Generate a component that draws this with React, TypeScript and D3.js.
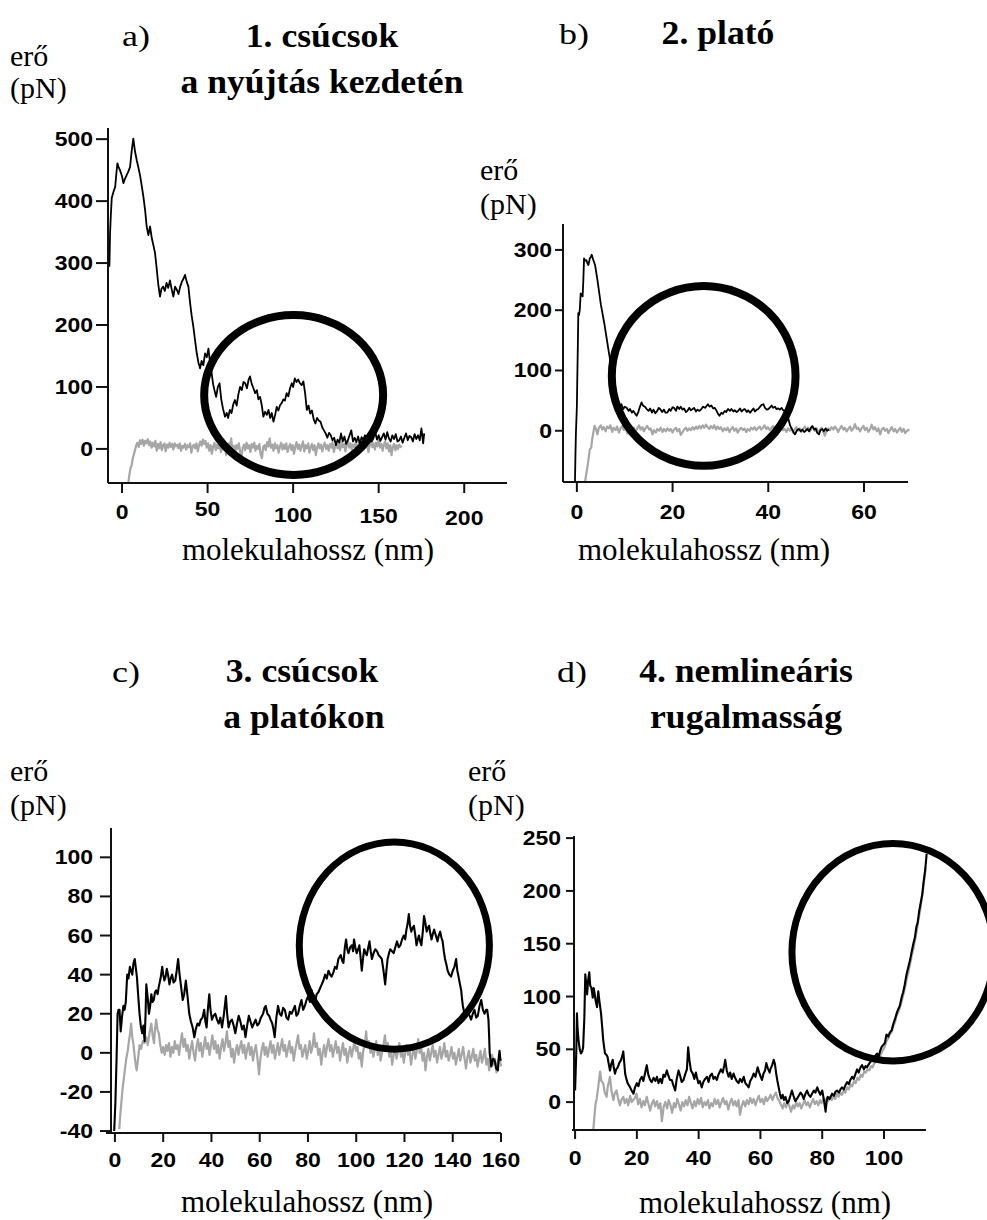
import React from 'react';
import * as d3 from 'd3';

// ---- tick values ----
const aXTicks = [0, 50, 100, 150, 200];
const aYTicks = [0, 100, 200, 300, 400, 500];
const bXTicks = [0, 20, 40, 60];
const bYTicks = [0, 100, 200, 300];
const cXTicks = [0, 20, 40, 60, 80, 100, 120, 140, 160];
const cYTicks = [-40, -20, 0, 20, 40, 60, 80, 100];
const dXTicks = [0, 20, 40, 60, 80, 100];
const dYTicks = [0, 50, 100, 150, 200, 250];

// ---- marked regions: [cx nm, cy pN, rx nm, ry pN] ----
const aRing = [100.3, 87, 52.3, 129];
const bRing = [26.5, 91, 19.2, 149];
const cRing = [115.8, 54.9, 39.4, 53];
const dRing = [102.9, 142, 32.7, 103];

// ---- traces, [molekulahossz nm, erő pN] ----
const aBlack = [
  [-7.4,294],[-7.2,320],[-7,348],[-6.5,380],[-6,405],[-5,415],[-4,423],[-3.3,445],[-2.7,461],[-2,455],[-1.2,450],[0,440],[0.8,429],[1.7,436],[2.7,442],[3.7,448],[4.7,455],[5.6,480],[6.6,501],[7.6,480],[8.6,466],[9.5,455],[10.5,442],[11.5,425],[12.5,407],[13.5,385],[14.4,359],[15.4,345],[16.4,359],[17.4,340],[18.4,328],[19.3,316],[20.3,290],[21.2,265],[22.2,246],[23,258],[24,262],[25,255],[26,268],[27,260],[28,272],[29,258],[30,246],[31,262],[32,257],[33,250],[34,262],[35,270],[36,275],[36.8,281],[37.8,270],[38.8,262],[39.8,235],[40.7,215],[41.7,197],[42.7,175],[43.7,154],[44.6,140],[45.6,130],[46.5,142],[47.5,135],[48.5,154],[49.5,148],[50.5,162],[51.4,140],[52.4,122],[53.2,105],[54,95],[55,84],[56,100],[57,106],[58,80],[59,65],[60.2,52],[61.2,58],[62,50],[63,63],[64,58],[65,72],[66,79],[67,70],[68,88],[69,100],[70,95],[71,108],[72,106],[73,98],[74,112],[74.8,117],[75.8,105],[76.8,98],[77.8,90],[78.8,95],[79.7,80],[80.7,84],[81.7,70],[82.6,52],[83.6,60],[84.6,55],[85.6,63],[86.6,50],[87.5,58],[88.5,44],[89.5,55],[90.4,68],[91.4,62],[92.3,70],[93.3,74],[94.3,80],[95.2,78],[96.2,90],[97.2,85],[98.2,98],[99.2,106],[100,100],[101,114],[102,108],[103,112],[104,106],[105,103],[106,109],[107,90],[108,63],[109,70],[110,57],[111,62],[112,48],[113,41],[114,50],[115,46],[116,44],[117,35],[118,30],[119,25],[120,18],[121,26],[122,22],[123,14],[124,18],[125,6],[126,15],[127,10],[128,25],[129,12],[130,20],[131,8],[132,14],[133,22],[134,30],[135,12],[136,18],[137,11],[138,20],[139,8],[140,19],[141,15],[142,22],[143,10],[144,14],[145,20],[146,12],[147,18],[148,27],[149,15],[150,22],[151,13],[152,19],[153,25],[154,15],[155,27],[156,17],[157,12],[158,22],[159,16],[160,24],[161,12],[162,14],[163,20],[164,10],[165,18],[166,25],[167,14],[168,21],[169,19],[170,12],[171,24],[172,16],[173,22],[174,14],[175,33],[176,9],[176.6,25]
];
const aGray = [
  [3.7,-55],[4.3,-42],[5,-30],[5.6,-27],[6.3,-15],[7,-8],[7.6,-2],[8.3,6],[9,10],[9.8,3],[10.5,14],[11.3,8],[12,15],[12.8,5],[13.5,13],[14.3,9],[15,16],[15.8,6],[16.5,12],[17.3,2],[18,10],[18.8,4],[19.5,13],[20.3,-3],[21,8],[21.8,1],[22.5,11],[23.3,-2],[24,6],[24.8,9],[25.5,-4],[26.3,7],[27,2],[27.8,10],[28.5,3],[29.3,8],[30,-1],[30.8,9],[31.5,4],[32.3,7],[33,1],[33.8,9],[34.5,-3],[35.3,5],[36,2],[36.8,8],[37.5,-1],[38.3,6],[39,3],[39.8,9],[40.5,-6],[41.3,4],[42,7],[42.8,1],[43.5,9],[44.3,-4],[45,6],[45.8,12],[46.5,5],[47.3,15],[48,8],[48.8,13],[49.5,2],[50.3,9],[51,-3],[51.8,6],[52.5,-8],[53.3,4],[54,10],[54.8,-2],[55.5,7],[56.3,1],[57,11],[57.8,-5],[58.5,4],[59.3,-1],[60,8],[60.8,-10],[61.5,3],[62.3,9],[63,2],[63.8,17],[64.5,-3],[65.3,5],[66,-7],[66.8,6],[67.5,0],[68.3,9],[69,-4],[69.8,-14],[70.5,2],[71.3,7],[72,-2],[72.8,10],[73.5,1],[74.3,6],[75,-5],[75.8,8],[76.5,2],[77.3,10],[78,-3],[78.8,5],[79.5,0],[80.3,8],[81,-9],[81.8,-15],[82.5,3],[83.3,6],[84,-2],[84.8,11],[85.5,4],[86.3,17],[87,2],[87.8,7],[88.5,-3],[89.3,9],[90,1],[90.8,6],[91.5,-6],[92.3,4],[93,10],[93.8,-1],[94.5,7],[95.3,0],[96,9],[96.8,-5],[97.5,3],[98.3,8],[99,-2],[99.8,6],[100.5,-8],[101.3,4],[102,11],[102.8,0],[103.5,7],[104.3,-3],[105,5],[105.8,12],[106.5,-4],[107.3,6],[108,1],[108.8,9],[109.5,-6],[110.3,3],[111,8],[111.8,-2],[112.5,6],[113.3,-10],[114,2],[114.8,9],[115.5,1],[116.3,7],[117,-4],[117.8,5],[118.5,10],[119.3,0],[120,6],[120.8,-3],[121.5,8],[122.3,2],[123,11],[123.8,-5],[124.5,4],[125.3,9],[126,1],[126.8,7],[127.5,-2],[128.3,10],[129,3],[129.8,8],[130.5,-4],[131.3,6],[132,12],[132.8,2],[133.5,9],[134.3,-1],[135,7],[135.8,3],[136.5,10],[137.3,-3],[138,5],[138.8,13],[139.5,4],[140.3,9],[141,-2],[141.8,8],[142.5,2],[143.3,11],[144,-5],[144.8,6],[145.5,14],[146.3,3],[147,9],[147.8,-1],[148.5,10],[149.3,4],[150,17],[150.8,2],[151.5,8],[152.3,-3],[153,7],[153.8,12],[154.5,1],[155.3,9],[156,-4],[156.8,6],[157.5,-10],[158.3,4],[159,8],[159.8,-2],[160.5,6],[161.3,0],[162,7],[162.8,3],[163.5,5]
];

const bBlack = [
  [-0.4,-85],[-0.3,-40],[-0.2,-4],[0,40],[0.07,79],[0.2,140],[0.3,195],[0.45,192],[0.6,200],[0.8,228],[1,226],[1.2,223],[1.35,250],[1.5,286],[1.7,282],[2,283],[2.2,278],[2.4,275],[2.6,282],[2.7,286],[2.9,288],[3.1,292],[3.4,284],[3.8,275],[4.3,250],[5,210],[5.8,175],[6.6,134],[7.2,105],[7.8,78],[8.3,55],[8.7,46],[9,40],[9.3,44],[9.7,36],[10,40],[10.4,38],[10.8,33],[11.1,36],[11.5,30],[11.8,33],[12.2,28],[12.5,25],[12.8,30],[13.1,38],[13.5,47],[13.8,42],[14.2,40],[14.6,36],[15,33],[15.3,37],[15.7,30],[16,35],[16.4,29],[16.8,33],[17.1,38],[17.4,36],[17.8,31],[18.2,35],[18.5,30],[18.9,30],[19.3,36],[19.6,33],[20,39],[20.3,38],[20.7,33],[21,40],[21.4,36],[21.7,40],[22.1,35],[22.4,37],[22.8,31],[23.1,33],[23.5,38],[23.8,34],[24.2,36],[24.5,38],[24.9,32],[25.2,35],[25.6,33],[26,36],[26.4,40],[26.8,38],[27.1,41],[27.4,44],[27.7,40],[28.1,42],[28.5,37],[28.8,38],[29.2,33],[29.5,28],[29.8,25],[30.2,30],[30.5,28],[30.9,33],[31.2,31],[31.6,36],[32,33],[32.3,36],[32.7,32],[33,34],[33.4,31],[33.7,33],[34.1,37],[34.4,32],[34.8,35],[35.1,36],[35.5,31],[35.8,34],[36.2,30],[36.5,33],[36.9,37],[37.2,32],[37.6,35],[37.9,36],[38.3,40],[38.6,43],[39,44],[39.3,38],[39.7,35],[40,36],[40.4,39],[40.7,42],[41,38],[41.4,40],[41.7,36],[42.1,37],[42.4,35],[42.8,38],[43.1,34],[43.5,33],[43.9,30],[44.2,20],[44.6,8],[45,2],[45.3,-3],[45.6,-6],[46,1],[46.4,3],[46.8,-1],[47.1,2],[47.5,-2],[47.8,0],[48.2,3],[48.5,-1],[48.9,5],[49.2,8],[49.6,2],[49.9,4],[50.2,-3],[50.6,-6],[50.9,1],[51.3,3],[51.6,-1],[52,4],[52.3,0],[52.7,2]
];
const bGray = [
  [1.7,-85],[2,-70],[2.3,-55],[2.7,-31],[3,-28],[3.2,-14],[3.5,0],[3.7,8],[4,3],[4.3,-6],[4.6,5],[5,9],[5.3,2],[5.6,6],[6,-1],[6.3,7],[6.7,4],[7,9],[7.4,-2],[7.7,5],[8.1,1],[8.4,7],[8.8,-3],[9.1,4],[9.5,8],[9.8,1],[10.2,6],[10.5,-4],[10.9,3],[11.2,7],[11.6,0],[11.9,5],[12.3,-2],[12.6,4],[13,9],[13.3,2],[13.7,6],[14,-1],[14.4,5],[14.7,8],[15.1,2],[15.4,4],[15.8,-6],[16.1,1],[16.5,-3],[16.8,3],[17.2,0],[17.5,5],[17.9,-2],[18.2,3],[18.6,-1],[18.9,4],[19.3,0],[19.6,3],[20,-3],[20.3,2],[20.7,5],[21,-1],[21.4,3],[21.7,-7],[22.1,-2],[22.4,2],[22.8,5],[23.1,0],[23.5,4],[23.8,1],[24.2,6],[24.5,2],[24.9,7],[25.2,3],[25.6,8],[25.9,4],[26.3,9],[26.6,5],[27,10],[27.3,6],[27.7,3],[28,8],[28.4,4],[28.7,9],[29.1,2],[29.4,7],[29.8,3],[30.1,6],[30.5,-1],[30.8,4],[31.2,1],[31.5,5],[31.9,-2],[32.2,3],[32.6,6],[32.9,0],[33.3,4],[33.6,-3],[34,2],[34.3,5],[34.7,1],[35,4],[35.4,-2],[35.7,3],[36.1,0],[36.4,5],[36.8,2],[37.1,6],[37.5,1],[37.8,4],[38.2,7],[38.5,2],[38.9,5],[39.2,9],[39.6,3],[39.9,6],[40.3,1],[40.6,4],[41,8],[41.3,2],[41.7,5],[42,-1],[42.4,4],[42.7,7],[43.1,1],[43.4,3],[43.8,-2],[44.1,4],[44.5,0],[44.8,5],[45.2,-3],[45.5,2],[45.9,6],[46.2,0],[46.6,4],[46.9,-2],[47.3,3],[47.6,7],[48,1],[48.3,5],[48.7,-1],[49,3],[49.4,6],[49.7,0],[50.1,4],[50.4,-4],[50.8,2],[51.1,5],[51.5,-1],[51.8,-8],[52.2,0],[52.5,4],[52.9,1],[53.2,6],[53.6,2],[53.9,7],[54.3,3],[54.6,-2],[55,4],[55.3,8],[55.7,2],[56,5],[56.4,-1],[56.7,3],[57.1,7],[57.4,0],[57.8,4],[58.1,11],[58.5,3],[58.8,5],[59.2,-1],[59.5,4],[59.9,8],[60.2,1],[60.6,5],[60.9,-2],[61.3,3],[61.6,10],[62,2],[62.3,6],[62.7,-1],[63,4],[63.4,-6],[63.7,2],[64.1,5],[64.4,0],[64.8,3],[65.1,-4],[65.5,2],[65.8,6],[66.2,-1],[66.5,3],[66.9,-3],[67.2,1],[67.6,5],[67.9,-2],[68.3,3],[68.6,-4],[69,0],[69.5,2]
];

const cBlack = [
  [-0.3,-40],[0.2,-25],[0.7,-2],[1.1,20],[1.5,22],[1.9,22],[2.4,11],[2.9,18],[3.5,24],[4,22],[4.5,26],[5.1,40],[5.6,38],[6.2,44],[6.7,42],[7.2,40],[7.7,46],[8.2,48],[8.7,43],[9.1,39],[9.6,30],[10.2,20],[10.7,14],[11.3,10],[11.8,14],[12.3,6],[12.7,20],[13,35],[13.6,28],[14.1,20],[14.6,24],[15.1,30],[15.6,26],[16.1,27],[16.6,31],[17.1,32],[17.7,30],[18.2,34],[18.9,38],[19.6,44],[20,40],[20.5,37],[21,39],[21.5,43],[22,40],[22.6,35],[23.1,38],[23.7,40],[24.3,36],[25,37],[25.6,42],[26.2,48],[26.8,40],[27.4,34],[28.1,27],[28.7,30],[29.4,37],[30,30],[30.8,20],[31.5,16],[32.2,13],[32.9,8],[33.5,12],[34.2,15],[34.9,14],[35.6,17],[36.3,18],[37,22],[37.5,16],[38,13],[38.5,22],[39.1,30],[39.6,22],[40.2,17],[40.9,19],[41.6,20],[42.3,17],[43,15],[43.7,18],[44.4,13],[45.2,20],[46,29],[46.5,20],[47.1,13],[47.8,16],[48.5,17],[49.2,14],[49.9,10],[50.6,15],[51.3,19],[52,16],[52.7,12],[53.4,14],[54.1,8],[54.8,14],[55.5,19],[56.2,16],[56.9,13],[57.6,15],[58.3,17],[59,14],[59.7,15],[60.5,18],[61.4,20],[62,23],[62.5,24],[63.2,20],[63.9,19],[64.5,17],[65.2,15],[65.7,12],[66.2,8],[66.9,18],[67.6,24],[68.3,20],[69,19],[69.7,23],[70.4,22],[71.1,18],[71.8,17],[72.5,21],[73.2,20],[73.9,22],[74.6,24],[75.2,19],[75.9,20],[76.6,24],[77.3,27],[78,22],[78.7,24],[79.4,27],[80.1,29],[80.8,26],[81.5,32],[82.2,28],[82.9,26],[83.6,30],[84.3,31],[85,33],[85.7,35],[86.4,37],[87.1,40],[87.8,38],[88.5,42],[89.2,40],[89.8,39],[90.5,41],[91.2,44],[91.9,43],[92.6,48],[93.6,50],[94.2,47],[94.7,46],[95.3,54],[95.8,58],[96.3,53],[96.8,51],[97.5,54],[98.2,55],[98.7,52],[99.1,58],[99.6,54],[100.2,51],[100.8,53],[101.3,55],[101.8,49],[102.3,42],[102.8,48],[103.3,53],[103.9,51],[104.4,50],[105,54],[105.5,57],[106,52],[106.5,48],[107.2,51],[107.9,53],[108.6,52],[109.3,50],[110,49],[110.6,48],[111.3,42],[112,35],[112.5,42],[113,48],[113.6,51],[114.1,53],[114.8,52],[115.5,51],[116.2,54],[116.9,57],[117.6,54],[118.3,55],[119,58],[119.7,60],[120.3,58],[120.8,63],[121.3,66],[121.8,71],[122.3,65],[122.8,62],[123.4,64],[123.9,65],[124.5,60],[125,55],[125.5,58],[126,60],[126.5,57],[127,55],[127.6,62],[128.1,70],[128.7,66],[129.2,62],[129.7,64],[130.2,65],[130.7,61],[131.2,58],[131.8,61],[132.3,63],[133,60],[133.7,57],[134.2,60],[134.8,62],[135.3,59],[135.8,57],[136.3,52],[136.8,48],[137.4,45],[137.9,42],[138.6,40],[139.3,39],[140,42],[140.7,44],[141.4,48],[141.9,42],[142.4,39],[143,35],[143.5,32],[143.9,27],[144.2,24],[144.7,21],[145.2,19],[145.8,22],[146.3,20],[147,19],[147.6,17],[148.3,20],[149,22],[149.7,18],[150.4,19],[151.1,24],[151.8,27],[152.5,22],[153.2,20],[153.8,22],[154.3,22],[154.8,17],[155.1,8],[155.3,0],[155.7,-4],[156,-7],[156.7,-3],[157.4,-4],[158,-8],[158.7,-9],[159.1,-2],[159.4,1],[159.7,-3],[160,-4]
];
const cGray = [
  [1.8,-39],[2.2,-32],[2.7,-25],[3.2,-18],[3.6,-14],[4.2,-8],[4.7,-3],[5.3,1],[5.8,6],[6.3,10],[6.7,15],[7.2,8],[7.7,4],[8.2,-2],[8.6,-6],[9,-9],[9.5,-4],[10.2,4],[10.8,2],[11.6,6],[12.3,5],[13,8],[13.6,4],[14.3,10],[15.1,15],[15.6,9],[16.2,5],[16.6,12],[17.1,17],[17.6,12],[18.2,10],[18.8,4],[19.4,0],[20,3],[20.6,-1],[21.2,4],[21.8,1],[22.4,5],[23,-2],[23.6,3],[24.2,0],[24.8,6],[25.4,2],[26,4],[26.6,-1],[27.2,5],[27.8,10],[28.4,3],[29,7],[29.6,1],[30.2,4],[30.8,-3],[31.4,2],[32,6],[32.6,0],[33.2,-4],[33.8,3],[34.4,7],[35,1],[35.6,5],[36.2,-2],[36.8,3],[37.4,8],[38,2],[38.6,5],[39.2,-1],[39.8,4],[40.4,9],[41,2],[41.6,6],[42.2,0],[42.8,4],[43.4,-3],[44,3],[44.6,7],[45.2,1],[45.8,5],[46.4,11],[47,3],[47.6,6],[48.2,-2],[48.8,2],[49.4,-5],[50,1],[50.6,4],[51.2,-1],[51.8,3],[52.4,6],[53,0],[53.6,4],[54.2,-3],[54.8,2],[55.4,5],[56,-1],[56.6,3],[57.2,-4],[57.8,1],[58.4,4],[59,-2],[59.7,-11],[60.3,-3],[60.9,2],[61.5,5],[62.1,-1],[62.7,3],[63.3,-2],[63.9,2],[64.5,6],[65.1,0],[65.7,4],[66.3,-3],[66.9,1],[67.5,5],[68.1,-1],[68.7,3],[69.3,7],[69.9,1],[70.5,4],[71.1,-2],[71.7,2],[72.3,6],[72.9,0],[73.5,3],[74.1,-4],[74.7,1],[75.3,5],[75.9,9],[76.5,2],[77.1,4],[77.7,-2],[78.3,1],[78.9,4],[79.5,-3],[80.1,1],[80.7,6],[81.3,0],[81.9,3],[82.5,10],[83.1,3],[83.7,5],[84.3,-1],[84.9,2],[85.5,-6],[86.1,0],[86.7,4],[87.3,-2],[87.9,3],[88.5,7],[89.1,1],[89.7,4],[90.3,-2],[90.9,2],[91.5,6],[92.1,0],[92.7,3],[93.3,-4],[93.9,1],[94.5,5],[95.1,-1],[95.7,2],[96.3,-5],[96.9,0],[97.5,3],[98.1,-2],[98.7,2],[99.3,6],[99.9,1],[100.5,3],[101.1,-3],[101.7,0],[102.3,-7],[102.9,1],[103.5,4],[104.1,11],[104.7,3],[105.3,6],[105.9,0],[106.5,3],[107.1,-2],[107.7,2],[108.3,6],[108.9,-1],[109.5,3],[110.1,-4],[110.7,0],[111.3,4],[111.9,9],[112.5,2],[113.1,5],[113.7,-2],[114.3,2],[114.9,-6],[115.5,-1],[116.1,3],[116.7,-3],[117.3,1],[117.9,5],[118.5,-2],[119.1,2],[119.7,-5],[120.3,0],[120.9,4],[121.5,-1],[122.1,2],[122.7,-6],[123.3,-1],[123.9,3],[124.5,-3],[125.1,1],[125.7,7],[126.3,0],[126.9,3],[127.5,-4],[128.1,0],[128.7,-9],[129.3,-2],[129.9,2],[130.5,-4],[131.1,0],[131.7,4],[132.3,-2],[132.9,1],[133.5,-5],[134.1,-1],[134.7,3],[135.3,-3],[135.9,0],[136.5,5],[137.1,-2],[137.7,1],[138.3,-4],[138.9,-1],[139.5,3],[140.1,-3],[140.7,0],[141.3,-6],[141.9,-2],[142.5,2],[143.1,-4],[143.7,-1],[144.3,3],[144.9,-3],[145.5,-8],[146.1,-2],[146.7,1],[147.3,-5],[147.9,-2],[148.5,2],[149.1,-4],[149.7,-1],[150.3,-7],[150.9,-3],[151.5,1],[152.1,-5],[152.7,-2],[153.3,2],[153.9,-6],[154.5,-3],[155.1,-9],[155.7,-4],[156.3,-1],[156.9,-6],[157.5,-3],[158.1,-10],[158.7,-5],[159.3,-2],[160,-7]
];

const dBlack = [
  [0,11],[0.2,30],[0.4,49],[0.6,84],[0.8,70],[1.1,59],[1.5,50],[1.9,46],[2.3,48],[2.6,52],[3,80],[3.3,121],[3.6,112],[3.9,102],[4.2,115],[4.6,123],[4.9,110],[5.2,109],[5.5,104],[5.7,99],[6,108],[6.2,105],[6.6,97],[7.1,90],[7.3,98],[7.5,105],[7.9,95],[8.4,84],[8.8,70],[9.1,59],[9.4,52],[9.7,46],[10.1,45],[10.5,43],[10.9,36],[11.3,30],[11.7,36],[12.2,40],[12.5,33],[12.9,27],[13.3,31],[13.8,33],[14.3,37],[14.9,40],[15.3,44],[15.6,48],[15.9,38],[16.2,27],[16.6,22],[17,18],[17.4,16],[17.8,14],[18.3,11],[18.9,8],[19.4,14],[20,18],[20.5,15],[21,21],[21.6,24],[22.1,20],[22.7,28],[23.2,35],[23.7,26],[24.3,21],[24.8,19],[25.4,23],[26,20],[26.5,24],[27,18],[27.6,22],[28.1,18],[28.6,26],[29.1,24],[29.7,30],[30.2,25],[30.7,21],[31.3,21],[31.8,16],[32.4,11],[32.9,22],[33.5,30],[34,25],[34.5,19],[35.1,21],[35.6,26],[36.2,31],[36.6,52],[37,40],[37.5,30],[38.1,27],[38.6,22],[39.1,28],[39.4,24],[39.9,18],[40.4,20],[41,14],[41.5,19],[42.1,22],[42.7,24],[43.2,19],[43.7,25],[44.3,27],[44.8,22],[45.3,24],[45.9,21],[46.4,26],[46.9,29],[47.2,31],[47.8,28],[48.3,35],[48.6,40],[49.1,30],[49.7,24],[50.2,28],[50.7,22],[51.3,27],[51.8,23],[52.3,20],[52.9,18],[53.4,22],[54,19],[54.6,24],[55.1,18],[55.7,16],[56.2,14],[56.7,20],[57.3,23],[57.8,27],[58.4,24],[59.1,33],[59.6,28],[60.1,24],[60.5,21],[61,27],[61.5,30],[61.9,37],[62.4,32],[63,28],[63.2,31],[63.8,35],[64.3,40],[64.7,36],[65.1,27],[65.5,20],[65.9,14],[66.3,8],[66.7,3.5],[67.2,7],[67.6,2],[68.1,5],[68.7,-1],[69.2,1],[69.7,6],[70.2,11],[70.7,6],[71.3,1],[71.9,3.5],[72.4,6],[73,9],[73.5,7],[74,3],[74.6,8],[75.1,11],[75.6,7],[76.2,5],[76.7,8],[77.3,11],[77.8,9],[78.4,14],[78.9,10],[79.4,7],[80,11],[80.5,3],[81.1,-9],[81.5,2],[81.8,5],[82.4,3],[83.2,8],[83.8,6],[84.3,10],[84.8,11],[85.4,9],[85.9,12],[86.4,14],[87,12],[87.5,16],[88.1,19],[88.6,17],[89.1,21],[89.7,24],[90.2,22],[90.8,27],[91.3,31],[91.8,28],[92.4,33],[92.9,35],[93.5,31],[94,34],[94.5,33],[95.1,36],[95.6,38],[96.2,40],[96.7,42],[97.2,44],[97.8,46],[98.2,42],[98.7,48],[99.2,52],[99.7,54],[100.3,56],[100.8,64],[101.4,62],[101.9,66],[102.5,68],[103,74],[103.6,79],[104.1,84],[104.6,88],[105.1,91],[105.7,99],[106.2,104],[106.7,111],[107.3,121],[107.8,127],[108.4,134],[109,143],[109.5,150],[110,156],[110.5,166],[110.9,170],[111.4,181],[111.9,189],[112.4,197],[112.8,208],[113.3,219],[113.6,228],[113.8,235]
];
const dGray = [
  [5.9,-26],[6.3,-12],[6.6,-2],[7,3.5],[7.4,12],[7.8,22],[8.1,29],[8.5,20],[9.1,18],[9.6,9],[10.2,5],[10.6,15],[11,20],[11.3,24],[11.8,10],[12.4,2],[12.8,8],[13.4,11],[13.9,4],[14.5,-3],[15,2],[15.6,5],[16.1,-1],[16.7,3],[17.2,-3],[17.8,6],[18.3,0],[18.8,2],[19.4,4],[19.9,8],[20.4,-2],[21,3],[21.5,-5],[22.1,1],[22.6,-3],[23.2,5],[23.7,-1],[24.3,-8],[24.8,-2],[25.4,2],[25.9,-4],[26.5,1],[27,-6],[27.6,-1],[28.1,-18],[28.7,-4],[29.2,0],[29.8,-6],[30.3,2],[30.9,-3],[31.4,-10],[32,-1],[32.5,-5],[33.1,3],[33.6,-2],[34.2,-8],[34.7,0],[35.3,-4],[35.8,2],[36.4,-3],[36.9,5],[37.5,-1],[38,-6],[38.6,1],[39.1,-4],[39.7,3],[40.2,-2],[40.8,4],[41.3,-5],[41.9,0],[42.4,-3],[43,2],[43.5,-6],[44.1,-1],[44.6,-4],[45.2,3],[45.7,-2],[46.3,2],[46.8,-5],[47.4,0],[47.9,4],[48.5,-2],[49,1],[49.6,-7],[50.1,-1],[50.7,3],[51.2,-3],[51.8,1],[52.3,-4],[52.9,2],[53.4,-12],[54,-3],[54.5,1],[55.1,-4],[55.6,2],[56.2,-2],[56.7,4],[57.3,-1],[57.8,3],[58.4,-3],[58.9,2],[59.5,6],[60,0],[60.6,3],[61.1,-2],[61.7,5],[62.2,1],[62.8,4],[63.3,7],[63.9,2],[64.4,6],[65,9],[65.5,4],[66.1,1],[66.6,-2],[67.2,-6],[67.7,-1],[68.3,-5],[68.8,1],[69.4,-4],[69.9,-9],[70.5,-3],[71,-6],[71.6,0],[72.1,-4],[72.7,-1],[73.2,-6],[73.8,-2],[74.3,2],[74.9,-3],[75.4,0],[76,-5],[76.5,-1],[77.1,3],[77.6,-2],[78.2,1],[78.7,-3],[79.3,2],[79.8,-1],[80.4,3],[80.9,0],[81.5,4],[82,1],[82.6,5],[83.1,2],[83.7,6],[84.2,3],[84.8,8],[85.3,5],[85.9,9],[86.4,7],[87,11],[87.5,9],[88.1,14],[88.6,12],[89.2,17],[89.7,15],[90.3,20],[90.8,18],[91.4,23],[91.9,21],[92.5,26],[93,24],[93.6,29],[94.1,28],[94.7,31],[95.2,30],[95.8,34],[96.3,33],[96.9,37],[97.4,38],[98,40],[98.5,42],[99.1,46],[99.6,49],[100.2,52],[100.7,57],[101.3,60],[101.8,64],[102.4,66],[102.9,71],[103.5,75],[104,81],[104.6,85],[105.1,89],[105.7,95],[106.2,101],[106.8,108],[107.3,116],[107.9,123],[108.4,130],[109,139],[109.5,145],[110.1,154],[110.6,162],[111.1,172],[111.6,180],[112.1,190],[112.6,200],[113.1,212],[113.5,222]
];

const SERIF = '"Liberation Serif", "Times New Roman", serif';
const SANS = '"Liberation Sans", Arial, sans-serif';

// text, optionally widened like the scanned figure
function Txt({ x, y, size, anchor = 'start', bold = false, family = SERIF, sx = 1, children }) {
  return (
    <text
      transform={`translate(${x},${y}) scale(${sx},1)`}
      textAnchor={anchor}
      fontFamily={family}
      fontSize={size}
      fontWeight={bold ? 'bold' : 'normal'}
      fill="#000"
    >
      {children}
    </text>
  );
}

const panels = [
  {
    id: 'a', xDomain: [-8.2, 225], xRange: [108, 507], yDomain: [-55, 518], yRange: [483, 128],
    yAxisX: 108, yTickLen: 12, xTickLen: 10, yLabelX: 93, xLabelY: [519, 516, 522, 523, 525],
    xTicks: aXTicks, yTicks: aYTicks, black: aBlack, gray: aGray, ring: aRing, ringW: 8, lineW: 1.8,
  },
  {
    id: 'b', xDomain: [-2.9, 69.2], xRange: [563, 908], yDomain: [-85, 343], yRange: [482, 224],
    yAxisX: 563, yTickLen: 8, xTickLen: 10, yLabelX: 552, xLabelY: [519],
    xTicks: bXTicks, yTicks: bYTicks, black: bBlack, gray: bGray, ring: bRing, ringW: 8, lineW: 1.8,
  },
  {
    id: 'c', xDomain: [-3.7, 160], xRange: [106, 501], yDomain: [-41, 115], yRange: [1133, 828],
    yAxisX: 111, yTickLen: 11, xTickLen: 9, yLabelX: 93, xLabelY: [1167],
    xTicks: cXTicks, yTicks: cYTicks, black: cBlack, gray: cGray, ring: cRing, ringW: 7, lineW: 2.1,
  },
  {
    id: 'd', xDomain: [-1, 113.6], xRange: [572, 926], yDomain: [-26.4, 252], yRange: [1130, 836],
    yAxisX: 574, yTickLen: 8, xTickLen: 9, yLabelX: 561, xLabelY: [1165],
    xTicks: dXTicks, yTicks: dYTicks, black: dBlack, gray: dGray, ring: dRing, ringW: 7, lineW: 2.1,
  },
];

function Panel({ p }) {
  const x = d3.scaleLinear().domain(p.xDomain).range(p.xRange);
  const y = d3.scaleLinear().domain(p.yDomain).range(p.yRange);
  const line = d3.line().x(d => x(d[0])).y(d => y(d[1]));
  const [cx, cy, rx, ry] = p.ring;
  const y0 = p.yRange[0];
  return (
    <g>
      <path d={line(p.gray)} fill="none" stroke="#a6a6a6" strokeWidth={2.2} strokeLinejoin="round" />
      <path d={line(p.black)} fill="none" stroke="#000" strokeWidth={p.lineW} strokeLinejoin="round" />
      {/* axes */}
      <line x1={p.xRange[0]} x2={p.xRange[1]} y1={y0} y2={y0} stroke="#111" strokeWidth={2} />
      <line x1={p.yAxisX} x2={p.yAxisX} y1={y0} y2={p.yRange[1]} stroke="#111" strokeWidth={2} />
      {p.xTicks.map((t, i) => (
        <g key={'x' + t}>
          <line x1={x(t)} x2={x(t)} y1={y0} y2={y0 + p.xTickLen} stroke="#111" strokeWidth={2} />
          <Txt x={x(t)} y={p.xLabelY[Math.min(i, p.xLabelY.length - 1)]} size={20} anchor="middle" bold family={SANS} sx={1.15}>{t}</Txt>
        </g>
      ))}
      {p.yTicks.map(t => (
        <g key={'y' + t}>
          <line x1={p.yAxisX - p.yTickLen} x2={p.yAxisX} y1={y(t)} y2={y(t)} stroke="#111" strokeWidth={2} />
          <Txt x={p.yLabelX} y={y(t) + 7} size={20} anchor="end" bold family={SANS} sx={1.15}>{t}</Txt>
        </g>
      ))}
      <ellipse
        cx={x(cx)} cy={y(cy)}
        rx={x(cx + rx) - x(cx)} ry={y(cy) - y(cy + ry)}
        fill="none" stroke="#000" strokeWidth={p.ringW}
      />
    </g>
  );
}

export default function App() {
  return (
    <svg width={987} height={1220} style={{ position: 'absolute', left: 0, top: 0, background: '#fff' }}>
      <rect width={987} height={1220} fill="#fff" />
      {panels.map(p => <Panel key={p.id} p={p} />)}

      {/* panel a texts */}
      <Txt x={10} y={66} size={30}>erő</Txt>
      <Txt x={10} y={98} size={30}>(pN)</Txt>
      <Txt x={122} y={46} size={30} sx={1.2}>a)</Txt>
      <Txt x={322} y={47} size={33} anchor="middle" bold sx={1.08}>1. csúcsok</Txt>
      <Txt x={322} y={93} size={33} anchor="middle" bold sx={1.08}>a nyújtás kezdetén</Txt>
      <Txt x={308} y={560} size={31} anchor="middle">molekulahossz (nm)</Txt>

      {/* panel b texts */}
      <Txt x={480} y={180} size={30}>erő</Txt>
      <Txt x={480} y={214} size={30}>(pN)</Txt>
      <Txt x={559} y={44} size={30} sx={1.2}>b)</Txt>
      <Txt x={718} y={44} size={33} anchor="middle" bold sx={1.08}>2. plató</Txt>
      <Txt x={704} y={560} size={31} anchor="middle">molekulahossz (nm)</Txt>

      {/* panel c texts */}
      <Txt x={10} y={781} size={30}>erő</Txt>
      <Txt x={10} y={815} size={30}>(pN)</Txt>
      <Txt x={112} y={682} size={30} sx={1.2}>c)</Txt>
      <Txt x={302} y={682} size={33} anchor="middle" bold sx={1.08}>3. csúcsok</Txt>
      <Txt x={304} y={728} size={33} anchor="middle" bold sx={1.08}>a platókon</Txt>
      <Txt x={307} y={1212} size={31} anchor="middle">molekulahossz (nm)</Txt>

      {/* panel d texts */}
      <Txt x={468} y={781} size={30}>erő</Txt>
      <Txt x={468} y={815} size={30}>(pN)</Txt>
      <Txt x={557} y={682} size={30} sx={1.2}>d)</Txt>
      <Txt x={746} y={682} size={33} anchor="middle" bold sx={1.08}>4. nemlineáris</Txt>
      <Txt x={746} y={728} size={33} anchor="middle" bold sx={1.08}>rugalmasság</Txt>
      <Txt x={765} y={1213} size={31} anchor="middle">molekulahossz (nm)</Txt>
    </svg>
  );
}
